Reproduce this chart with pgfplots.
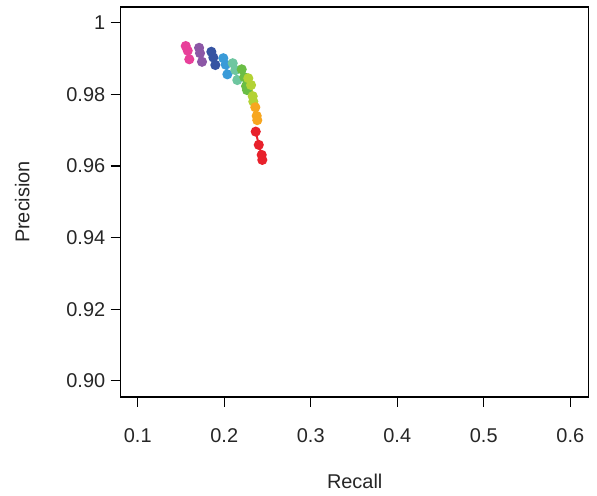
\documentclass[border=0pt]{standalone}
\usepackage{pgfplots}
\pgfplotsset{compat=1.18}
\usepackage{fontspec}
\setmainfont{Liberation Sans}
\definecolor{cpink}{HTML}{E8409A}
\definecolor{cpurple}{HTML}{8C57A6}
\definecolor{cdblue}{HTML}{3553A2}
\definecolor{clblue}{HTML}{3A9BD8}
\definecolor{cmint}{HTML}{6EC6A0}
\definecolor{cgreen}{HTML}{6ABD45}
\definecolor{cyg}{HTML}{B3D235}
\definecolor{corange}{HTML}{F7A620}
\definecolor{cred}{HTML}{E8212B}
\begin{document}
\begin{tikzpicture}
\begin{axis}[
  scale only axis,
  width=468bp, height=390bp,
  xmin=0.0803, xmax=0.6213,
  ymin=0.8955, ymax=1.0044,
  xtick={0.1,0.2,0.3,0.4,0.5,0.6},
  xticklabels={0.1,0.2,0.3,0.4,0.5,0.6},
  ytick={0.90,0.92,0.94,0.96,0.98,1},
  yticklabels={0.90,0.92,0.94,0.96,0.98,1},
  tick align=outside,
  major tick length=10bp,
  xtick pos=bottom, ytick pos=left,
  axis line style={line width=1.2pt},
  every tick/.style={black, line width=1.2pt},
  tick label style={font=\fontsize{20}{22}\selectfont, text=black!85},
  label style={font=\fontsize{20}{22}\selectfont, text=black!85},
  xlabel={Recall}, ylabel={Precision},
  xticklabel style={yshift=-18bp},
  yticklabel style={xshift=-2bp},
  xlabel style={yshift=-25bp},
  ylabel style={yshift=30bp},
  clip=false,
  every axis plot/.append style={line width=2pt, mark=*, mark size=4bp},
]
\addplot[cpink, mark options={fill=cpink, draw=cpink}] coordinates {(0.1555,0.9935) (0.1578,0.9922) (0.1596,0.9898)};
\addplot[cpurple, mark options={fill=cpurple, draw=cpurple}] coordinates {(0.1709,0.9930) (0.1720,0.9915) (0.1743,0.9891)};
\addplot[cdblue, mark options={fill=cdblue, draw=cdblue}] coordinates {(0.1851,0.9919) (0.1874,0.9903) (0.1897,0.9882)};
\addplot[clblue, mark options={fill=clblue, draw=clblue}] coordinates {(0.1989,0.9901) (0.2017,0.9883) (0.2036,0.9856)};
\addplot[cmint, mark options={fill=cmint, draw=cmint}] coordinates {(0.2098,0.9887) (0.2128,0.9868) (0.2151,0.9840)};
\addplot[cgreen, mark options={fill=cgreen, draw=cgreen}] coordinates {(0.2202,0.9870) (0.2232,0.9848) (0.2252,0.9823) (0.2263,0.9812)};
\addplot[cyg, mark options={fill=cyg, draw=cyg}] coordinates {(0.2278,0.9845) (0.2310,0.9826) (0.2329,0.9795) (0.2336,0.9780)};
\addplot[corange, mark options={fill=corange, draw=corange}] coordinates {(0.2359,0.9764) (0.2375,0.9740) (0.2382,0.9728)};
\addplot[cred, mark options={fill=cred, draw=cred}] coordinates {(0.2364,0.9696) (0.2399,0.9659) (0.2433,0.9631) (0.2440,0.9617)};
\end{axis}
\path ([shift={(-120.7bp,-99bp)}]current axis.south west) rectangle ([shift={(8.3bp,7bp)}]current axis.north east);
\end{tikzpicture}
\end{document}
